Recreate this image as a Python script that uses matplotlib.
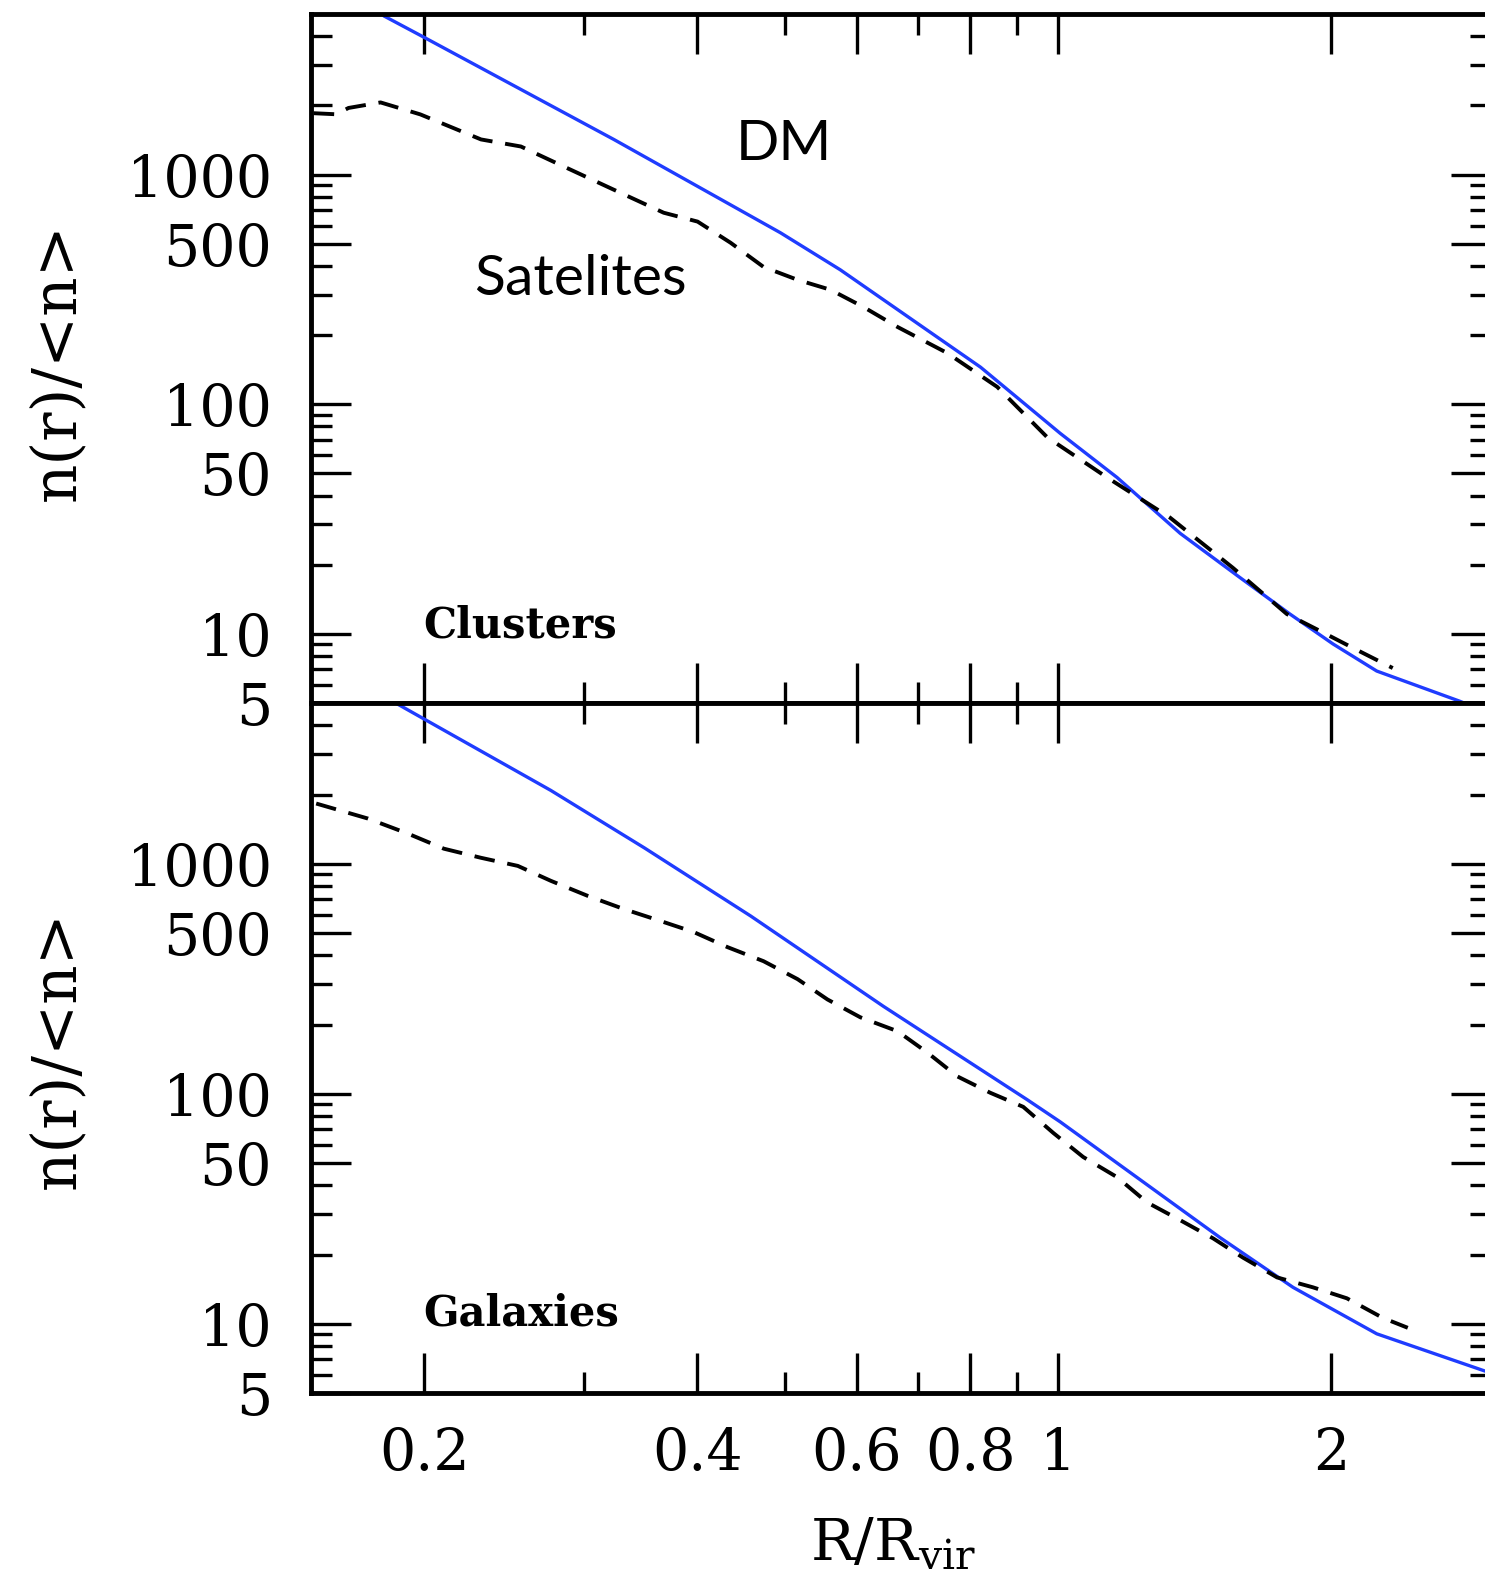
import matplotlib
matplotlib.use("Agg")
import matplotlib.pyplot as plt
from matplotlib.ticker import FixedLocator, FixedFormatter, NullFormatter

plt.rcParams['font.family'] = ['DejaVu Serif']
plt.rcParams['mathtext.fontset'] = 'dejavuserif'

# --- Clusters panel (top) ---
cl_dm_r = [0.17, 0.1806, 0.1998, 0.3236, 0.494, 0.575, 0.821, 1.005, 1.161,
           1.363, 1.586, 1.801, 2.009, 2.245, 2.772, 2.95]
cl_dm_n = [5900, 4900, 3963, 1422, 558, 385, 145, 74.7, 48,
           27.4, 17.6, 12.2, 9.04, 6.89, 5.09, 4.6]
cl_sat_r = [0.151, 0.160, 0.165, 0.179, 0.198, 0.231, 0.2556, 0.285, 0.3236,
            0.3673, 0.4003, 0.4352, 0.4733, 0.516, 0.561, 0.61, 0.665, 0.7546,
            0.8565, 0.9725, 1.132, 1.328, 1.558, 1.787, 1.944, 2.113, 2.338]
cl_sat_n = [1850, 1830, 1950, 2061, 1828, 1422, 1325, 1084, 859,
            682, 624, 505, 396, 348, 315, 265, 217, 167,
            119, 71.8, 48, 32.1, 19.4, 12.2, 10.3, 8.69, 7.10]

# --- Galaxies panel (bottom) ---
gx_dm_r = [0.178, 0.186, 0.2758, 0.3500, 0.458, 0.6416, 0.9244, 1.005, 1.508,
           1.815, 2.245, 2.702, 2.95]
gx_dm_n = [5700, 5000, 2084, 1170, 593, 240, 94.2, 75.5, 23.7,
           14.4, 9.04, 7.03, 6.24]
gx_sat_r = [0.152, 0.1734, 0.1919, 0.2102, 0.2309, 0.2536, 0.2758, 0.3029,
            0.3318, 0.3643, 0.3963, 0.4319, 0.4733, 0.516, 0.5567, 0.6051,
            0.665, 0.7174, 0.774, 0.8415, 0.9151, 0.9874, 1.0654, 1.161,
            1.253, 1.363, 1.482, 1.598, 1.743, 1.909, 2.081, 2.28, 2.429]
gx_sat_n = [1828, 1572, 1352, 1163, 1062, 979, 843, 725,
            636, 564, 505, 434, 377, 315, 257, 215,
            187, 151, 119, 101, 87.7, 67.6, 53.1, 43.4,
            33.7, 28.2, 23.5, 19.4, 15.9, 14.4, 12.9, 10.6, 9.6]

xmajor = [0.2, 0.4, 0.6, 0.8, 1, 2]
xmajor_labels = ["0.2", "0.4", "0.6", "0.8", "1", "2"]
xminor = [0.3, 0.5, 0.7, 0.9]
ymajor = [5, 10, 50, 100, 500, 1000]
ymajor_labels = ["5", "10", "50", "100", "500", "1000"]
yminor = [6, 7, 8, 9, 20, 30, 40, 60, 70, 80, 90,
          200, 300, 400, 600, 700, 800, 900, 2000, 3000, 4000]

blue = '#1f3cff'

fig = plt.figure(figsize=(14.85, 15.77), dpi=100)
ax1 = fig.add_axes([0.2094, 0.5542, 0.7946, 0.4369])
ax2 = fig.add_axes([0.2094, 0.1167, 0.7946, 0.4375])


def style(ax, show_x):
    ax.set_xscale('log')
    ax.set_yscale('log')
    ax.set_xlim(0.15, 3)
    ax.set_ylim(5, 5000)
    ax.xaxis.set_major_locator(FixedLocator(xmajor))
    ax.xaxis.set_minor_locator(FixedLocator(xminor))
    ax.xaxis.set_major_formatter(FixedFormatter(xmajor_labels))
    ax.xaxis.set_minor_formatter(NullFormatter())
    ax.yaxis.set_major_locator(FixedLocator(ymajor))
    ax.yaxis.set_minor_locator(FixedLocator(yminor))
    ax.yaxis.set_major_formatter(FixedFormatter(ymajor_labels))
    ax.yaxis.set_minor_formatter(NullFormatter())
    ax.tick_params(which='both', direction='in', top=True, right=True,
                   width=2.4, color='black')
    ax.tick_params(which='major', length=29)
    ax.tick_params(which='minor', length=15)
    ax.tick_params(axis='y', labelsize=41, pad=28)
    ax.tick_params(axis='x', labelsize=41, pad=24, labelbottom=show_x)
    for s in ax.spines.values():
        s.set_linewidth(3.5)


style(ax1, False)
style(ax2, True)

ax1.plot(cl_dm_r, cl_dm_n, color=blue, lw=2.4)
ax1.plot(cl_sat_r, cl_sat_n, color='black', lw=2.8, ls=(0, (5.3, 3.3)))
ax2.plot(gx_dm_r, gx_dm_n, color=blue, lw=2.4)
ax2.plot(gx_sat_r, gx_sat_n, color='black', lw=2.8, ls=(0, (5.3, 3.3)))

ax1.text(0.1993, 9.6, 'Clusters', fontsize=30, fontweight='bold', va='baseline', ha='left')
ax2.text(0.1993, 9.8, 'Galaxies', fontsize=30, fontweight='bold', va='baseline', ha='left')
ax1.text(0.4408, 1163, 'DM', fontsize=41, family=['Lato', 'DejaVu Sans'], va='baseline', ha='left')
ax1.text(0.2268, 299, 'Satelites', fontsize=41, family=['Lato', 'DejaVu Sans'], va='baseline', ha='left')

fig.text(57 / 1485, 0.7705, 'n(r)/<n>', rotation=90, fontsize=44, ha='center', va='center')
fig.text(57 / 1485, 0.3342, 'n(r)/<n>', rotation=90, fontsize=44, ha='center', va='center')
fig.text(810 / 1485, 1 - 1560 / 1577, r'R/R$_\mathrm{vir}$', fontsize=42, ha='left', va='baseline')

fig.savefig('out.png', dpi=100)
